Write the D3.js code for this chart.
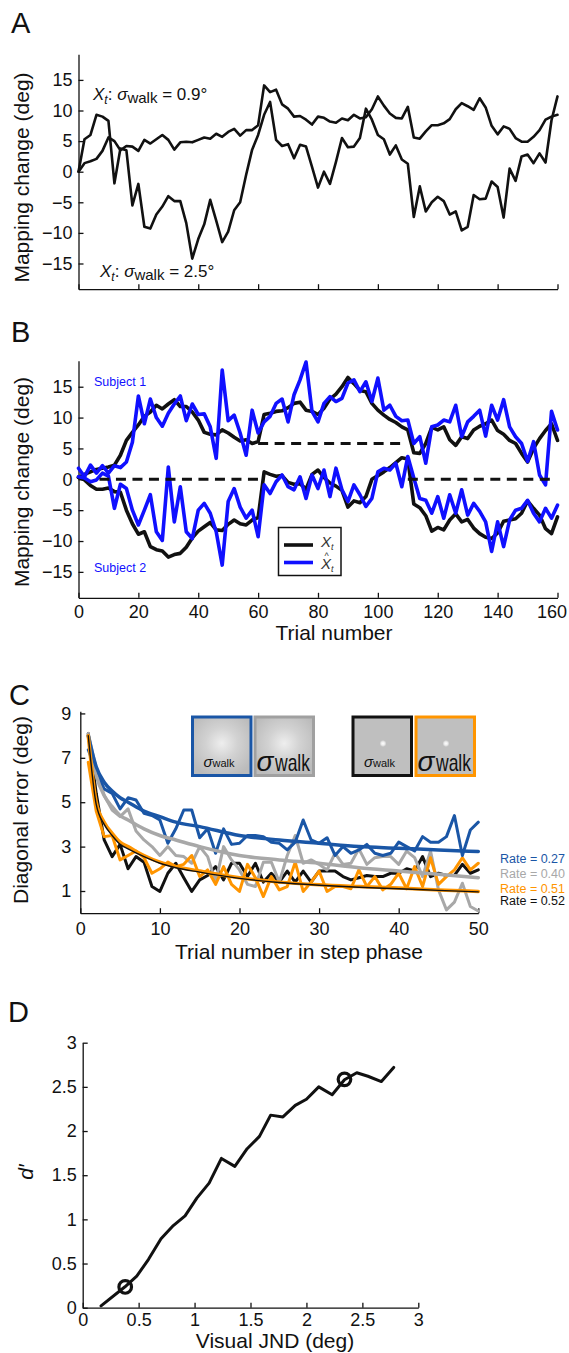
<!DOCTYPE html>
<html><head><meta charset="utf-8">
<script src="https://cdn.jsdelivr.net/npm/d3@7"></script>
<style>body{margin:0;background:#fff}svg{display:block}</style>
</head><body>
<script>
// ---------- Panel A data (trials 0..160 step 2) ----------
const trialsAB = d3.range(0, 161, 2);
const walkSmall = [0,1.4,1.7,2.1,3.4,5.6,5.0,3.5,4.2,4.1,
 3.4,5.2,4.6,5.3,6.0,5.2,3.6,4.8,4.9,4.8,
 5.2,5.6,5.4,6.2,5.7,6.5,7.0,5.9,6.8,6.8,
 7.6,14.1,13.0,13.4,11.0,10.3,9.0,9.1,8.5,7.7,
 9.0,8.8,8.2,8.0,8.7,8.4,9.3,8.7,8.9,10.2,
 12.3,10.8,9.5,8.8,8.7,10.6,5.6,5.4,6.6,7.6,
 7.6,7.9,8.6,10.2,11.2,10.7,10.1,12.0,10.5,7.5,
 6.1,7.4,7.0,5.5,4.9,4.9,5.7,6.8,8.5,9.0,
 9.3];
const walkLarge = [0,5.3,6.0,9.3,9.0,8.3,-1.9,3.8,3.5,-5.5,
 -2.0,-9.0,-9.3,-7.0,-5.7,-4.0,-4.8,-4.8,-8.4,-14.2,
 -11.0,-8.6,-4.6,-8.0,-11.5,-9.8,-6.3,-5.0,-0.5,3.6,
 6.0,9.3,11.4,5.2,4.2,4.5,2.2,4.4,4.1,0.8,
 -2.6,0.0,-2.0,1.6,5.5,4.0,4.1,5.5,10.3,8.5,
 6.0,5.3,2.8,4.3,2.0,1.3,-7.4,-2.4,-6.5,-5.0,
 -4.1,-4.8,-7.0,-6.5,-9.6,-9.0,-3.8,-4.5,-4.4,-1.6,
 -2.5,-7.5,0.5,-1.5,2.5,2.8,1.4,3.0,1.5,8.4,
 12.3];
const mapTicks = [-15,-10,-5,0,5,10,15];
const trialTicks = [0,20,40,60,80,100,120,140,160];

// ---------- Panel B data ----------
const subj1X = [0.3,0.8,1.2,1.6,1.8,2.0,2.3,3.9,6.3,7.6,
 8.8,10.2,10.9,12.0,11.4,12.2,12.9,11.8,11.8,10.9,
 9.6,7.6,7.3,7.2,8.0,7.5,6.8,6.2,6.4,5.8,
 6.1,10.5,10.7,11.0,11.1,11.6,12.3,12.5,11.2,11.0,
 10.5,11.5,13.0,13.8,15.0,16.5,15.5,14.4,14.2,12.3,
 11.2,10.4,9.7,9.2,8.5,8.0,4.3,4.2,5.8,8.4,
 8.0,8.5,6.4,5.5,6.9,6.6,8.0,8.6,9.0,9.6,
 7.9,7.3,6.3,5.8,4.2,2.8,5.0,6.6,7.9,9.0,
 6.3];
const subj2X = [0.3,-0.1,-1.0,-1.6,-1.6,-1.4,-2.0,-2.1,-5.0,-7.2,
 -8.9,-8.5,-10.9,-11.4,-11.6,-12.6,-12.2,-12.0,-11.0,-9.5,
 -8.4,-7.7,-7.0,-8.2,-8.3,-7.3,-6.6,-7.2,-7.4,-6.6,
 -6.2,1.2,0.8,0.5,0.6,-0.5,-0.8,-0.7,-1.6,0.8,
 1.5,0.3,-0.6,-1.1,-1.8,-4.5,-3.5,-3.8,-2.8,0.0,
 0.6,1.2,1.9,2.7,3.5,3.3,-4.0,-4.6,-5.9,-8.4,
 -7.8,-8.2,-6.6,-5.6,-6.9,-6.5,-7.9,-8.8,-9.4,-9.6,
 -8.7,-6.8,-6.6,-6.4,-5.5,-3.5,-4.7,-5.8,-8.0,-8.8,
 -6.1];
const subj1Hat = [1.8,0.4,2.3,1.0,2.2,1.0,2.2,1.9,2.8,6.0,
 13.5,9.0,13.0,10.0,8.6,10.7,12.2,13.5,9.5,12.2,
 10.5,10.6,8.5,3.4,17.7,9.5,10.4,7.5,3.9,11.2,
 7.5,9.3,10.2,12.3,13.0,9.3,13.7,16.1,19.0,11.0,
 9.3,12.3,13.4,12.6,13.1,15.6,16.1,14.2,15.8,12.6,
 16.4,11.2,12.0,10.2,9.5,9.6,5.8,6.9,2.6,8.5,
 8.8,9.6,9.3,12.0,6.9,9.3,10.2,11.2,7.0,12.0,
 9.6,12.9,8.5,6.9,5.8,2.9,6.1,0.7,-0.9,11.0,
 8.0];
const subj2Hat = [0.4,0.2,-0.4,-0.1,1.0,0.5,-4.7,-0.8,-1.5,-5.0,
 -7.4,-5.0,-2.5,-8.5,-9.9,2.0,-6.9,-1.2,-8.5,-9.6,
 -5.0,-3.9,-5.5,-8.5,-13.9,-3.6,-1.5,-4.5,-6.3,-5.0,
 -9.3,-0.9,-2.3,-0.4,0.7,-1.2,-1.7,0.4,-3.1,0.7,
 -1.5,1.5,-2.8,1.8,-1.7,-3.6,-0.9,-2.5,-4.4,-3.1,
 1.2,1.8,1.5,2.6,-1.2,3.7,0.2,-3.1,-3.4,-5.5,
 -2.8,-6.3,-2.5,-5.5,-1.7,-5.8,-3.9,-5.2,-6.9,-11.7,
 -6.9,-10.9,-6.6,-5.0,-4.7,-3.4,-5.5,-6.9,-4.7,-6.3,
 -4.2];
const stepStart = [7, 60, 110];
const stepEnd = [60, 108, 158];
const stepLevel = [0, 5.8, 0];

// ---------- Panel C data (trials 1..50) ----------
const stepTrials = d3.range(1, 51);
const errBlue = [7.36,6.4,5.6,5.4,4.7,5.2,5.1,4.5,4.4,4.2,
 3.15,3.8,4.65,4.65,3.4,3.8,2.7,3.8,3.1,3.15,
 3.5,3.5,3.45,3.2,3.15,2.85,3.2,4.2,3.3,3.15,
 3.4,2.6,3.0,2.7,2.85,3.1,2.7,2.6,2.7,3.2,
 3.0,2.8,3.45,3.2,3.2,3.45,4.4,2.6,3.75,4.1];
const errGray = [8.1,6.5,5.3,4.65,4.35,4.7,3.7,3.3,3.0,2.6,
 3.0,2.6,2.55,2.25,3.0,2.55,1.4,3.0,2.4,1.95,
 1.3,1.2,2.3,2.3,1.4,2.6,3.5,2.25,2.4,2.2,
 1.95,2.7,2.2,2.25,2.9,2.2,2.5,2.55,2.55,2.2,
 2.8,2.5,1.65,2.8,1.05,0.15,0.5,1.35,0.3,0.1];
const errBlack = [8.1,5.4,3.3,2.55,3.1,2.0,2.55,2.3,1.2,0.98,
 1.8,2.25,1.6,0.98,1.5,1.7,2.1,1.5,2.25,2.25,
 1.65,2.25,1.4,1.8,1.4,1.9,1.4,1.9,1.4,1.9,
 1.9,1.9,1.65,1.5,1.6,1.7,1.65,1.65,1.8,1.8,
 2.0,1.9,2.55,1.65,1.8,1.7,1.7,2.2,1.8,1.95];
const errOrange = [6.8,4.6,3.45,3.5,2.4,2.6,2.8,2.5,1.8,2.0,
 2.3,2.1,2.2,2.6,1.65,1.95,1.3,2.1,1.3,0.98,
 2.2,1.6,0.75,1.65,1.05,1.2,2.3,0.98,1.4,1.9,
 0.98,1.2,1.2,1.1,1.95,1.2,1.65,1.05,1.3,1.8,
 1.1,2.1,1.2,2.5,1.3,1.65,1.95,2.5,1.95,2.25];
const fitTrials = [1,2,3,4,5,6,8,10,12,15,20,25,30,35,40,45,50];
const fitBlue   = [8.0,6.6,5.9,5.5,5.2,5.0,4.6,4.35,4.1,3.9,3.5,3.3,3.15,3.0,2.93,2.85,2.78];
const fitGray   = [8.0,6.2,5.3,4.8,4.4,4.2,3.8,3.5,3.3,3.0,2.6,2.4,2.25,2.05,1.9,1.75,1.6];
const fitOrange = [8.0,5.0,4.1,3.6,3.2,3.0,2.6,2.3,2.1,1.9,1.6,1.4,1.28,1.2,1.13,1.05,0.98];
const fitBlack  = [8.0,4.9,4.0,3.5,3.1,2.9,2.55,2.25,2.05,1.85,1.57,1.38,1.26,1.17,1.1,1.03,0.96];
const rateLabels = ["Rate = 0.27","Rate = 0.40","Rate = 0.51","Rate = 0.52"];
const errTicks = [1,3,5,7,9];
const stepTicks = [0,10,20,30,40,50];

// ---------- Panel D data ----------
const jnd = [0.164,0.378,0.483,0.587,0.70,0.81,0.915,1.02,1.13,1.24,1.36,1.47,1.58,1.68,1.79,1.90,2.00,2.11,2.23,2.34,2.45,2.55,2.67,2.78];
const dprime = [0.02,0.237,0.357,0.545,0.78,0.93,1.04,1.24,1.41,1.69,1.60,1.80,1.94,2.18,2.16,2.29,2.36,2.50,2.41,2.58,2.66,2.62,2.56,2.72];
const markJnd = [0.38, 2.34];
const markDprime = [0.235, 2.585];
const dTicks = [0,0.5,1,1.5,2,2.5,3];

// ---------- drawing ----------
const FONT = "'Liberation Sans', Arial, Helvetica, sans-serif";
const INK = "#111";
const BLUE_C = "#1a56a6", GRAY_C = "#a8a8a8", ORANGE_C = "#ff9500", BLUE_B = "#1010ff";

const svg = d3.select("body").append("svg").attr("width", 569).attr("height", 1353)
  .style("font-family", FONT);

function styleAxis(g, fs) {
  g.select("path.domain").attr("stroke", INK).attr("stroke-width", 1.3);
  g.selectAll(".tick line").attr("stroke", INK).attr("stroke-width", 1.3);
  g.selectAll("text").attr("font-size", fs || 18).attr("fill", INK).attr("font-family", FONT);
}
function pathOf(x, y, xs, ys, curve) {
  const l = d3.line().x((d, i) => x(xs[i])).y(d => y(d));
  if (curve) l.curve(curve);
  return l(ys);
}
function drawLine(x, y, xs, ys, color, w, curve) {
  svg.append("path").attr("d", pathOf(x, y, xs, ys, curve)).attr("fill", "none")
    .attr("stroke", color).attr("stroke-width", w).attr("stroke-linejoin", "round").attr("stroke-linecap", "round");
}
function panelLetter(t, x, y) {
  svg.append("text").text(t).attr("x", x).attr("y", y).attr("font-size", 29).attr("fill", INK);
}
function yLabel(t, x, y, italic) {
  const tx = svg.append("text").text(t).attr("transform", `translate(${x},${y}) rotate(-90)`)
    .attr("text-anchor", "middle").attr("font-size", 21).attr("fill", INK);
  if (italic) tx.attr("font-style", "italic");
}
function xLabel(t, x, y) {
  svg.append("text").text(t).attr("x", x).attr("y", y).attr("text-anchor", "middle")
    .attr("font-size", 21).attr("fill", INK);
}

// ===== Panel A =====
const xT = d3.scaleLinear().domain([0, 160]).range([78.5, 557.5]);
const yA = d3.scaleLinear().domain([-19.2, 19.2]).range([289.2, 54.2]);
panelLetter("A", 11, 33);
svg.append("g").attr("transform", `translate(${xT(0)},0)`)
  .call(d3.axisLeft(yA).tickValues(mapTicks).tickSize(-5).tickSizeOuter(0).tickPadding(6))
  .call(g => styleAxis(g));
svg.append("g").attr("transform", `translate(0,${yA(-19.2)})`)
  .call(d3.axisBottom(xT).tickValues(trialTicks).tickSize(-5).tickSizeOuter(0).tickFormat(""))
  .call(g => styleAxis(g));
yLabel("Mapping change (deg)", 28.5, 177.5);
drawLine(xT, yA, trialsAB, walkSmall, INK, 2.6);
drawLine(xT, yA, trialsAB, walkLarge, INK, 2.6);

function sigmaLabel(x, y, val) {
  const t = svg.append("text").attr("x", x).attr("y", y).attr("font-size", 17).attr("fill", INK);
  t.append("tspan").text("X").attr("font-style", "italic");
  t.append("tspan").text("t").attr("font-style", "italic").attr("font-size", 12).attr("dy", 4);
  t.append("tspan").text(": ").attr("dy", -4);
  t.append("tspan").text("σ").attr("font-style", "italic");
  t.append("tspan").text("walk").attr("font-size", 15).attr("dy", 3);
  t.append("tspan").text(" = " + val).attr("dy", -3);
}
sigmaLabel(93, 100, "0.9°");
sigmaLabel(100, 277, "2.5°");

// ===== Panel B =====
const yB = d3.scaleLinear().domain([-19.2, 19.2]).range([597.8, 360.8]);
panelLetter("B", 11, 342);
svg.append("g").attr("transform", `translate(${xT(0)},0)`)
  .call(d3.axisLeft(yB).tickValues(mapTicks).tickSize(-5).tickSizeOuter(0).tickPadding(6))
  .call(g => styleAxis(g));
svg.append("g").attr("transform", `translate(0,${yB(-19.2)})`)
  .call(d3.axisBottom(xT).tickValues(trialTicks).tickSize(-5).tickSizeOuter(0).tickPadding(7.5))
  .call(g => styleAxis(g))
  .call(g => g.selectAll(".tick text").filter(d => d === 160).attr("dx", -6));
yLabel("Mapping change (deg)", 28.5, 482);
xLabel("Trial number", 334, 640);
drawLine(xT, yB, trialsAB, subj1X, INK, 3.6);
drawLine(xT, yB, trialsAB, subj2X, INK, 3.6);
drawLine(xT, yB, trialsAB, subj1Hat, BLUE_B, 3.6);
drawLine(xT, yB, trialsAB, subj2Hat, BLUE_B, 3.6);
stepLevel.forEach((lv, i) => {
  svg.append("line").attr("x1", xT(stepStart[i])).attr("x2", xT(stepEnd[i]))
    .attr("y1", yB(lv)).attr("y2", yB(lv)).attr("stroke", INK).attr("stroke-width", 3)
    .attr("stroke-dasharray", "10,6.5");
});
svg.append("text").text("Subject 1").attr("x", 94).attr("y", 386).attr("font-size", 12.5).attr("fill", BLUE_B);
svg.append("text").text("Subject 2").attr("x", 94).attr("y", 572).attr("font-size", 12.5).attr("fill", BLUE_B);
// legend
svg.append("rect").attr("x", 278.5).attr("y", 527.5).attr("width", 62.5).attr("height", 48)
  .attr("fill", "#fff").attr("stroke", INK).attr("stroke-width", 1.5);
svg.append("line").attr("x1", 284).attr("x2", 313).attr("y1", 545).attr("y2", 545).attr("stroke", INK).attr("stroke-width", 3.6);
svg.append("line").attr("x1", 284).attr("x2", 313).attr("y1", 562.5).attr("y2", 562.5).attr("stroke", BLUE_B).attr("stroke-width", 3.6);
const lg1 = svg.append("text").attr("x", 321).attr("y", 547).attr("font-size", 15).attr("fill", "#333").attr("font-style", "italic");
lg1.append("tspan").text("X"); lg1.append("tspan").text("t").attr("font-size", 9).attr("dy", 3);
const lg2 = svg.append("text").attr("x", 321).attr("y", 569).attr("font-size", 15).attr("fill", "#333").attr("font-style", "italic");
lg2.append("tspan").text("X"); lg2.append("tspan").text("t").attr("font-size", 9).attr("dy", 3);
svg.append("text").text("^").attr("x", 324.5).attr("y", 559).attr("font-size", 9).attr("fill", "#333");

// ===== Panel C =====
const xC = d3.scaleLinear().domain([0, 50]).range([80.3, 478.3]);
const yC = d3.scaleLinear().domain([0, 9.1]).range([913.2, 711.2]);
panelLetter("C", 9, 705);
svg.append("g").attr("transform", `translate(${xC(0)},0)`)
  .call(d3.axisLeft(yC).tickValues(errTicks).tickSize(-5).tickSizeOuter(0).tickPadding(9))
  .call(g => styleAxis(g));
svg.append("g").attr("transform", `translate(0,${yC(0)})`)
  .call(d3.axisBottom(xC).tickValues(stepTicks).tickSize(-5).tickSizeOuter(0).tickPadding(9))
  .call(g => styleAxis(g));
yLabel("Diagonal error (deg)", 28, 810);
xLabel("Trial number in step phase", 299, 959);
drawLine(xC, yC, stepTrials, errBlack, INK, 3);
drawLine(xC, yC, stepTrials, errGray, GRAY_C, 3);
drawLine(xC, yC, stepTrials, errOrange, ORANGE_C, 3);
drawLine(xC, yC, stepTrials, errBlue, BLUE_C, 3);
drawLine(xC, yC, fitTrials, fitGray, GRAY_C, 3.5, d3.curveMonotoneX);
drawLine(xC, yC, fitTrials, fitBlue, BLUE_C, 3.5, d3.curveMonotoneX);
drawLine(xC, yC, fitTrials, fitOrange, ORANGE_C, 3.5, d3.curveMonotoneX);
drawLine(xC, yC, fitTrials, fitBlack, INK, 1.4, d3.curveMonotoneX);
const rateColors = [BLUE_C, GRAY_C, ORANGE_C, INK];
const rateY = [863, 878, 893, 905];
rateLabels.forEach((t, i) => svg.append("text").text(t).attr("x", 500).attr("y", rateY[i])
  .attr("font-size", 12.5).attr("fill", rateColors[i]));

// inset boxes
const defs = svg.append("defs");
const gBig = defs.append("radialGradient").attr("id", "blurBig").attr("cx", 0.5).attr("cy", 0.45).attr("r", 0.6);
gBig.append("stop").attr("offset", 0).attr("stop-color", "#eeeeee");
gBig.append("stop").attr("offset", 0.45).attr("stop-color", "#d2d2d2");
gBig.append("stop").attr("offset", 1).attr("stop-color", "#bbbbbb");
const gDot = defs.append("radialGradient").attr("id", "dotG");
gDot.append("stop").attr("offset", 0).attr("stop-color", "#ffffff");
gDot.append("stop").attr("offset", 0.5).attr("stop-color", "#ececec");
gDot.append("stop").attr("offset", 1).attr("stop-color", "#bfbfbf");
const boxes = [
  {x: 192.5, c: BLUE_C, blur: true, big: false},
  {x: 255, c: "#a0a0a0", blur: true, big: true},
  {x: 353, c: INK, blur: false, big: false},
  {x: 416, c: ORANGE_C, blur: false, big: true}
];
boxes.forEach(b => {
  svg.append("rect").attr("x", b.x).attr("y", 717).attr("width", 58.5).attr("height", 58.5)
    .attr("fill", b.blur ? "url(#blurBig)" : "#bfbfbf").attr("stroke", b.c).attr("stroke-width", 3);
  if (!b.blur) svg.append("rect").attr("x", b.x + 26.5).attr("y", 740).attr("width", 7).attr("height", 7).attr("fill", "url(#dotG)");
  if (b.big) {
    svg.append("text").text("σ").attr("x", b.x + 1.5).attr("y", 771).attr("font-size", 28).attr("font-style", "italic").attr("fill", INK);
    svg.append("text").text("walk").attr("x", b.x + 20).attr("y", 771).attr("font-size", 24)
      .attr("textLength", 35).attr("lengthAdjust", "spacingAndGlyphs").attr("fill", INK);
  } else {
    const t = svg.append("text").attr("x", b.x + 11).attr("y", 767).attr("fill", INK);
    t.append("tspan").text("σ").attr("font-size", 15).attr("font-style", "italic");
    t.append("tspan").text("walk").attr("font-size", 11);
  }
});

// ===== Panel D =====
const xD = d3.scaleLinear().domain([0, 3]).range([82.7, 418.3]);
const yD = d3.scaleLinear().domain([0, 3]).range([1307.7, 1042.7]);
panelLetter("D", 8, 1022);
const fmtD = d => (d === 0 ? "0" : d3.format("~g")(d));
svg.append("g").attr("transform", `translate(${xD(0)},0)`)
  .call(d3.axisLeft(yD).tickValues(dTicks).tickSize(-5).tickSizeOuter(0).tickPadding(6).tickFormat(fmtD))
  .call(g => styleAxis(g));
svg.append("g").attr("transform", `translate(0,${yD(0)})`)
  .call(d3.axisBottom(xD).tickValues(dTicks).tickSize(-5).tickSizeOuter(0).tickPadding(6).tickFormat(fmtD))
  .call(g => styleAxis(g));
yLabel("d′", 33, 1172, true);
xLabel("Visual JND (deg)", 275, 1348);
drawLine(xD, yD, jnd, dprime, INK, 3);
markJnd.forEach((v, i) => svg.append("circle").attr("cx", xD(v)).attr("cy", yD(markDprime[i])).attr("r", 6.3)
  .attr("fill", "none").attr("stroke", INK).attr("stroke-width", 3.2));
</script>
</body></html>
